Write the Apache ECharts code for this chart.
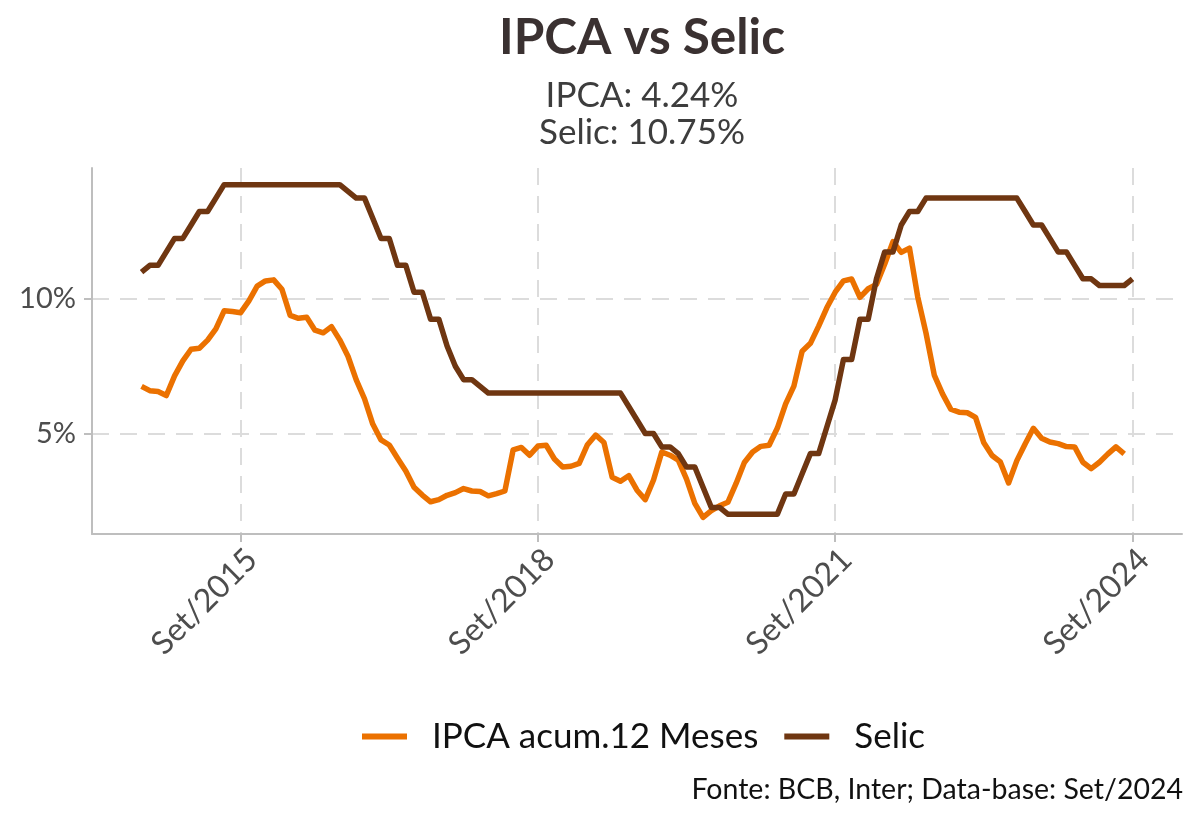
<!DOCTYPE html>
<html>
<head>
<meta charset="utf-8">
<script src="https://cdn.jsdelivr.net/npm/echarts@6/dist/echarts.min.js"></script>
<style>
html,body{margin:0;padding:0;background:#fff;}
#chart{width:1200px;height:824px;}
</style>
</head>
<body>
<div id="chart"></div>
<script>
// Monthly series, first month = Set/2014
const startYear = 2014;
const startMonth = 8; // 0-based: September
const monthNames = ['Jan','Fev','Mar','Abr','Mai','Jun','Jul','Ago','Set','Out','Nov','Dez'];

// IPCA accumulated 12 months (%), Set/2014 .. Ago/2024
const ipca = [
  6.75, 6.59, 6.56, 6.41, 7.14, 7.70, 8.13, 8.17, 8.47, 8.89, 9.56, 9.53,
  9.49, 9.93, 10.48, 10.67, 10.71, 10.36, 9.39, 9.28, 9.32, 8.84, 8.74, 8.97,
  8.48, 7.87, 6.99, 6.29, 5.35, 4.76, 4.57, 4.08, 3.60, 3.00, 2.71, 2.46,
  2.54, 2.70, 2.80, 2.95, 2.86, 2.84, 2.68, 2.76, 2.86, 4.39, 4.48, 4.19,
  4.53, 4.56, 4.05, 3.75, 3.78, 3.89, 4.58, 4.94, 4.66, 3.37, 3.22, 3.43,
  2.89, 2.54, 3.27, 4.31, 4.19, 4.01, 3.30, 2.40, 1.88, 2.13, 2.31, 2.44,
  3.14, 3.92, 4.31, 4.52, 4.56, 5.20, 6.10, 6.76, 8.06, 8.35, 8.99, 9.68,
  10.25, 10.67, 10.74, 10.06, 10.38, 10.54, 11.30, 12.13, 11.73, 11.89, 10.07, 8.73,
  7.17, 6.47, 5.90, 5.79, 5.77, 5.60, 4.65, 4.18, 3.94, 3.16, 3.99, 4.61,
  5.19, 4.82, 4.68, 4.62, 4.51, 4.50, 3.93, 3.69, 3.93, 4.23, 4.50, 4.24
];

// Selic target (%), Set/2014 .. Set/2024
const selic = [
  11.00, 11.25, 11.25, 11.75, 12.25, 12.25, 12.75, 13.25, 13.25, 13.75, 14.25, 14.25,
  14.25, 14.25, 14.25, 14.25, 14.25, 14.25, 14.25, 14.25, 14.25, 14.25, 14.25, 14.25,
  14.25, 14.00, 13.75, 13.75, 13.00, 12.25, 12.25, 11.25, 11.25, 10.25, 10.25, 9.25,
  9.25, 8.25, 7.50, 7.00, 7.00, 6.75, 6.50, 6.50, 6.50, 6.50, 6.50, 6.50,
  6.50, 6.50, 6.50, 6.50, 6.50, 6.50, 6.50, 6.50, 6.50, 6.50, 6.50, 6.00,
  5.50, 5.00, 5.00, 4.50, 4.50, 4.25, 3.75, 3.75, 3.00, 2.25, 2.25, 2.00,
  2.00, 2.00, 2.00, 2.00, 2.00, 2.00, 2.75, 2.75, 3.50, 4.25, 4.25, 5.25,
  6.25, 7.75, 7.75, 9.25, 9.25, 10.75, 11.75, 11.75, 12.75, 13.25, 13.25, 13.75,
  13.75, 13.75, 13.75, 13.75, 13.75, 13.75, 13.75, 13.75, 13.75, 13.75, 13.75, 13.25,
  12.75, 12.75, 12.25, 11.75, 11.75, 11.25, 10.75, 10.75, 10.50, 10.50, 10.50, 10.50,
  10.75
];

// x tick positions (month index) and y ticks
const xTicks = [12, 48, 84, 120];
const yTicks = [5, 10];

const seriesNames = ['IPCA acum.12 Meses', 'Selic'];
const colors = ['#EB7100', '#6F3611'];
const caption = 'Fonte: BCB, Inter; Data-base: Set/2024';

function monthLabel(i) {
  const m = startMonth + i;
  const y = startYear + Math.floor(m / 12);
  return monthNames[((m % 12) + 12) % 12] + '/' + y;
}

// ggplot-like 5% expansion
const nMonths = selic.length - 1;
const xMin = -0.05 * nMonths, xMax = nMonths * 1.05;
const allV = ipca.concat(selic);
const vMin = Math.min.apply(null, allV), vMax = Math.max.apply(null, allV);
const yMin = vMin - 0.05 * (vMax - vMin), yMax = vMax + 0.05 * (vMax - vMin);

const fmtPct = v => v.toFixed(2) + '%';
const subtitle = 'IPCA: ' + fmtPct(ipca[ipca.length - 1]) + '\nSelic: ' + fmtPct(selic[selic.length - 1]);

const chart = echarts.init(document.getElementById('chart'), null, {renderer: 'canvas'});
const FONT = 'Lato, "Noto Sans", sans-serif';
const gridLine = {show: true, lineStyle: {color: '#DCDCDC', width: 2, type: [17, 11]}};

chart.setOption({
  animation: false,
  backgroundColor: '#ffffff',
  textStyle: {fontFamily: FONT},
  title: [
    {text: 'IPCA vs Selic', left: 637, top: 7, textAlign: 'center',
     textStyle: {fontFamily: FONT, fontWeight: 'bold', fontSize: 49.5, color: '#3a3131', lineHeight: 52}},
    {text: subtitle, left: 637, top: 72, textAlign: 'center',
     textStyle: {fontFamily: FONT, fontWeight: 'normal', fontSize: 35, color: '#3d3d3d', lineHeight: 37}}
  ],
  grid: {left: 92, right: 18, top: 168, bottom: 290, containLabel: false, outerBoundsMode: 'none'},
  legend: {
    data: seriesNames,
    left: 357, top: 714,
    icon: 'rect', itemWidth: 45, itemHeight: 6, itemGap: 26,
    textStyle: {fontFamily: FONT, fontSize: 35, color: '#111', padding: [0, 0, 0, 20]}
  },
  xAxis: {
    type: 'value', min: xMin, max: xMax,
    axisLine: {show: true, onZero: false, lineStyle: {color: '#BEBEBE', width: 2}},
    axisTick: {show: true, length: 8, customValues: xTicks, lineStyle: {color: '#BEBEBE', width: 2}},
    axisLabel: {show: true, customValues: xTicks, rotate: 45, margin: 9, align: 'right', verticalAlign: 'top',
                formatter: v => monthLabel(Math.round(v)), fontFamily: FONT, fontSize: 32, color: '#4d4d4d'},
    splitLine: Object.assign({customValues: xTicks}, gridLine)
  },
  yAxis: {
    type: 'value', min: yMin, max: yMax,
    axisLine: {show: true, onZero: false, lineStyle: {color: '#BEBEBE', width: 2}},
    axisTick: {show: true, length: 8, customValues: yTicks, lineStyle: {color: '#BEBEBE', width: 2}},
    axisLabel: {show: true, customValues: yTicks, margin: 16, formatter: v => Math.round(v) + '%',
                fontFamily: FONT, fontSize: 29, color: '#4d4d4d'},
    splitLine: Object.assign({customValues: yTicks}, gridLine)
  },
  series: [
    {name: seriesNames[0], type: 'line', showSymbol: false, symbol: 'none', color: colors[0],
     lineStyle: {width: 5.5, color: colors[0], join: 'round'},
     data: ipca.map((v, i) => [i, v])},
    {name: seriesNames[1], type: 'line', showSymbol: false, symbol: 'none', color: colors[1],
     lineStyle: {width: 5.5, color: colors[1], join: 'round'},
     data: selic.map((v, i) => [i, v])}
  ],
  graphic: [
    {type: 'text', right: 17, top: 775,
     style: {text: caption, fontFamily: FONT, fontSize: 28.5, fill: '#111', textAlign: 'right'}}
  ]
});
</script>
</body>
</html>
